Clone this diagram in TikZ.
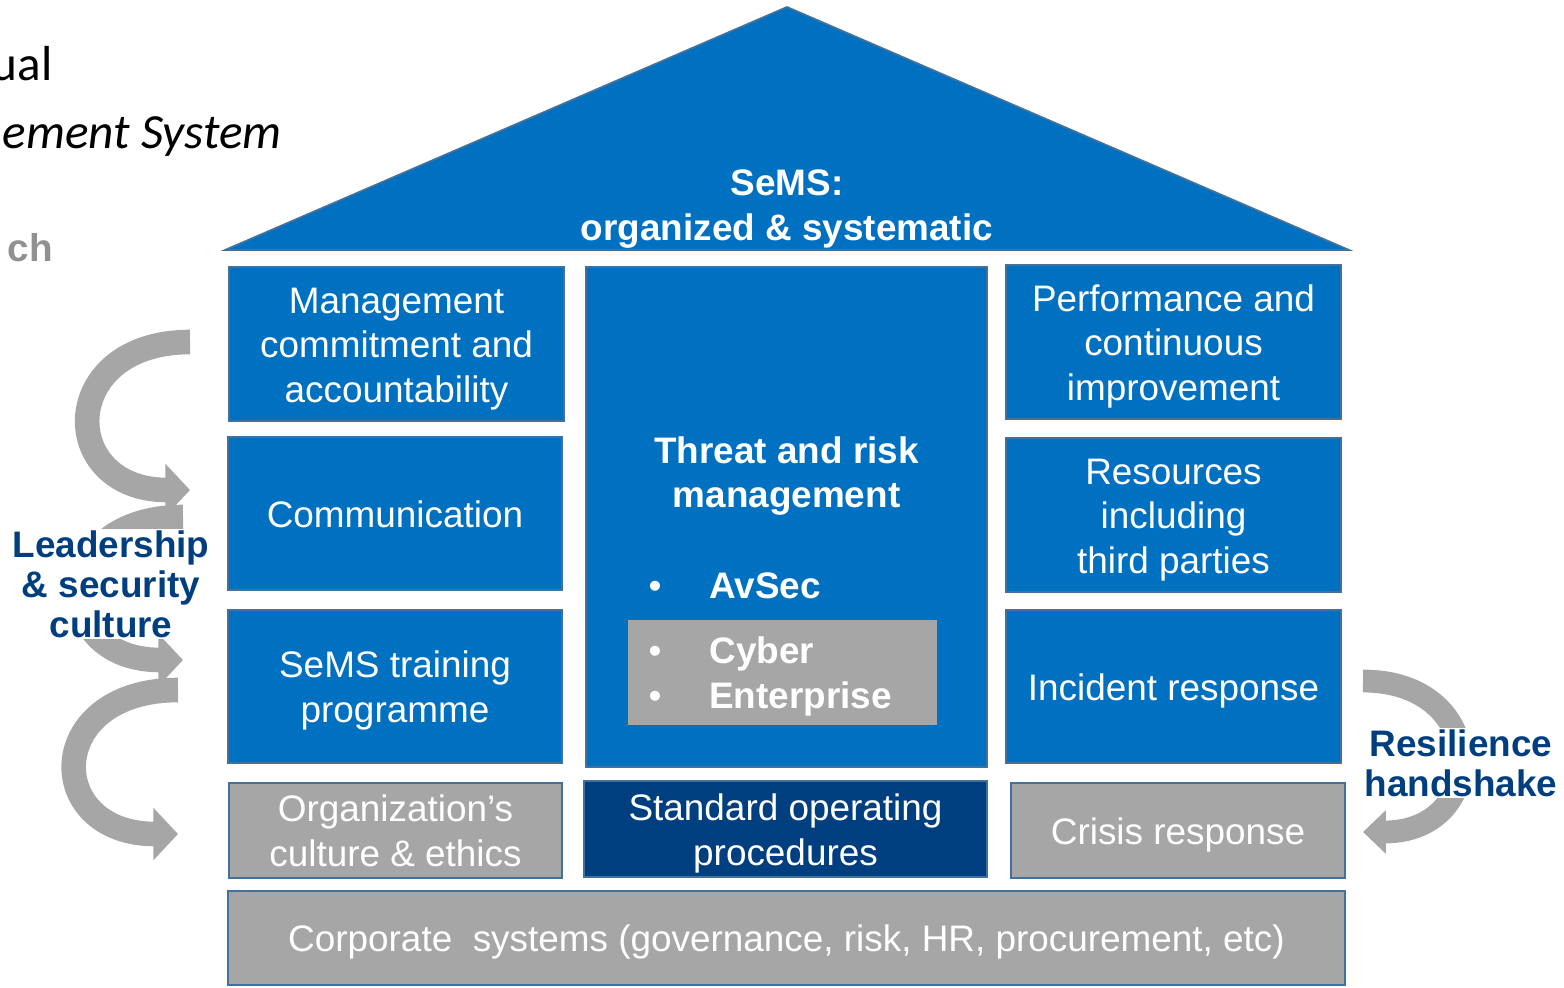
\documentclass[tikz,border=0pt]{standalone}
\usepackage{fontspec}
\setmainfont{Liberation Sans}
\newfontfamily\slidefont{Carlito}
\usetikzlibrary{arrows.meta}

\definecolor{sembl}{RGB}{0,112,192}
\definecolor{semdk}{RGB}{0,63,127}
\definecolor{semgr}{RGB}{166,166,166}
\definecolor{semln}{RGB}{65,113,156}
\definecolor{semtx}{RGB}{145,145,145}

\newcommand{\boxstrut}{\rule{0pt}{1em}}

\begin{document}
\begin{tikzpicture}[x=0.02cm, y=-0.02cm]
  % \draw[help lines, step=50] (0,0) grid (1564,987);

  \tikzset{blue node/.style={rectangle,draw=semln,line width=1pt,fill=sembl,text=white,align=center,inner sep=0pt,
      font=\fontsize{21}{25.5}\selectfont,
      execute at begin node=\boxstrut,execute at end node=\rule[-0.25em]{0pt}{0pt}}}
  \tikzset{gray node/.style={blue node,fill=semgr}}
  \tikzset{dark node/.style={blue node,fill=semdk}}
  \tikzset{bold label/.style={draw=none,text=white,align=center,inner sep=0pt,font=\bfseries\fontsize{21}{25.5}\selectfont}}
  \tikzset{side label/.style={fill=white,text=semdk,align=center,inner sep=1pt,font=\bfseries\fontsize{21}{22.7}\selectfont}}
  \tikzset{slide text/.style={anchor=base east,inner sep=0pt,font=\slidefont\fontsize{28}{34}\selectfont}}
  \tikzset{bend arrow/.style={draw=semgr,line width=14pt,-{Triangle[width=29pt,length=14pt]}}}

  \useasboundingbox (0,0) rectangle (1564,987);
  \clip (0,0) rectangle (1564,987);

  \path (53,80) node[slide text](t1){ual}
        (282,148) node[slide text,font=\slidefont\itshape\fontsize{28}{34}\selectfont](t2){ement System}
        (53,261) node[slide text,text=semtx,font=\bfseries\fontsize{22}{26}\selectfont](t3){ch};

  % roof
  \path[draw=semln,line width=1pt,fill=sembl] (225,250) -- (787,7) -- (1349,250) -- cycle;
  \path (787,209) node[bold label](roof){SeMS:\\organized \& systematic};

  \path
    (396.5,344) node[blue node,minimum width=6.7cm,minimum height=3.08cm](l1){\boxstrut Management\\commitment and\\accountability}
    (395,513.5) node[blue node,minimum width=6.68cm,minimum height=3.06cm](l2){Communication}
    (395,686.5) node[blue node,minimum width=6.68cm,minimum height=3.06cm](l3){\boxstrut SeMS training\\programme}
    (395.5,830.5) node[gray node,minimum width=6.66cm,minimum height=1.9cm](l4){\boxstrut Organization’s\\culture \& ethics}
    (786.5,517) node[blue node,minimum width=8.02cm,minimum height=10cm](c1){}
    (785.5,829) node[dark node,minimum width=8.06cm,minimum height=1.92cm](c2){\boxstrut Standard operating\\procedures}
    (1173.5,342) node[blue node,minimum width=6.7cm,minimum height=3.08cm](r1){\boxstrut Performance and\\continuous\\improvement}
    (1173.5,515) node[blue node,minimum width=6.7cm,minimum height=3.08cm](r2){\boxstrut Resources\\including\\third parties}
    (1173.5,686.5) node[blue node,minimum width=6.7cm,minimum height=3.06cm](r3){Incident response}
    (1178,830.5) node[gray node,minimum width=6.68cm,minimum height=1.9cm](r4){Crisis response}
    (786.5,938) node[gray node,minimum width=22.34cm,minimum height=1.88cm](base){Corporate\ \ systems (governance, risk, HR, procurement, etc)}
  ;

  % inside the threat box
  \path (782.5,672.5) node[rectangle,fill=semgr,inner sep=0pt,minimum width=6.18cm,minimum height=2.1cm](c3){};
  \path (786.5,476) node[bold label](risk){Threat and risk\\management};
  \path
    (655,598) node[bold label,anchor=base,font=\fontsize{21}{25.5}\selectfont](d1){\textbullet}
    (709,598) node[bold label,anchor=base west](i1){AvSec}
    (655,663) node[bold label,anchor=base,font=\fontsize{21}{25.5}\selectfont](d2){\textbullet}
    (709,663) node[bold label,anchor=base west](i2){Cyber}
    (655,708) node[bold label,anchor=base,font=\fontsize{21}{25.5}\selectfont](d3){\textbullet}
    (709,708) node[bold label,anchor=base west](i3){Enterprise}
  ;

  % leadership arrows
  \coordinate (a1) at (190,342);
  \coordinate (b1) at (190,490);
  \coordinate (a2) at (183,517);
  \coordinate (b2) at (183,660);
  \coordinate (a3) at (178,690);
  \coordinate (b3) at (178,834);
  \draw[bend arrow] (a1) .. controls (57,342) and (57,490) .. (b1);
  \draw[bend arrow] (a2) .. controls (50,517) and (50,660) .. (b2);
  \draw[bend arrow] (a3) .. controls (43,690) and (43,834) .. (b3);
  \path (111,584) node[side label](lead){Leadership\\\& security\\culture};

  % resilience handshake
  \coordinate (a4) at (1363,681);
  \coordinate (b4) at (1363,832);
  \draw[bend arrow,line width=13pt,-{Triangle[width=24pt,length=13pt]}] (a4) .. controls (1490,681) and (1490,832) .. (b4);
  \path (1461,763) node[side label](res){Resilience\\handshake};

\end{tikzpicture}
\end{document}
